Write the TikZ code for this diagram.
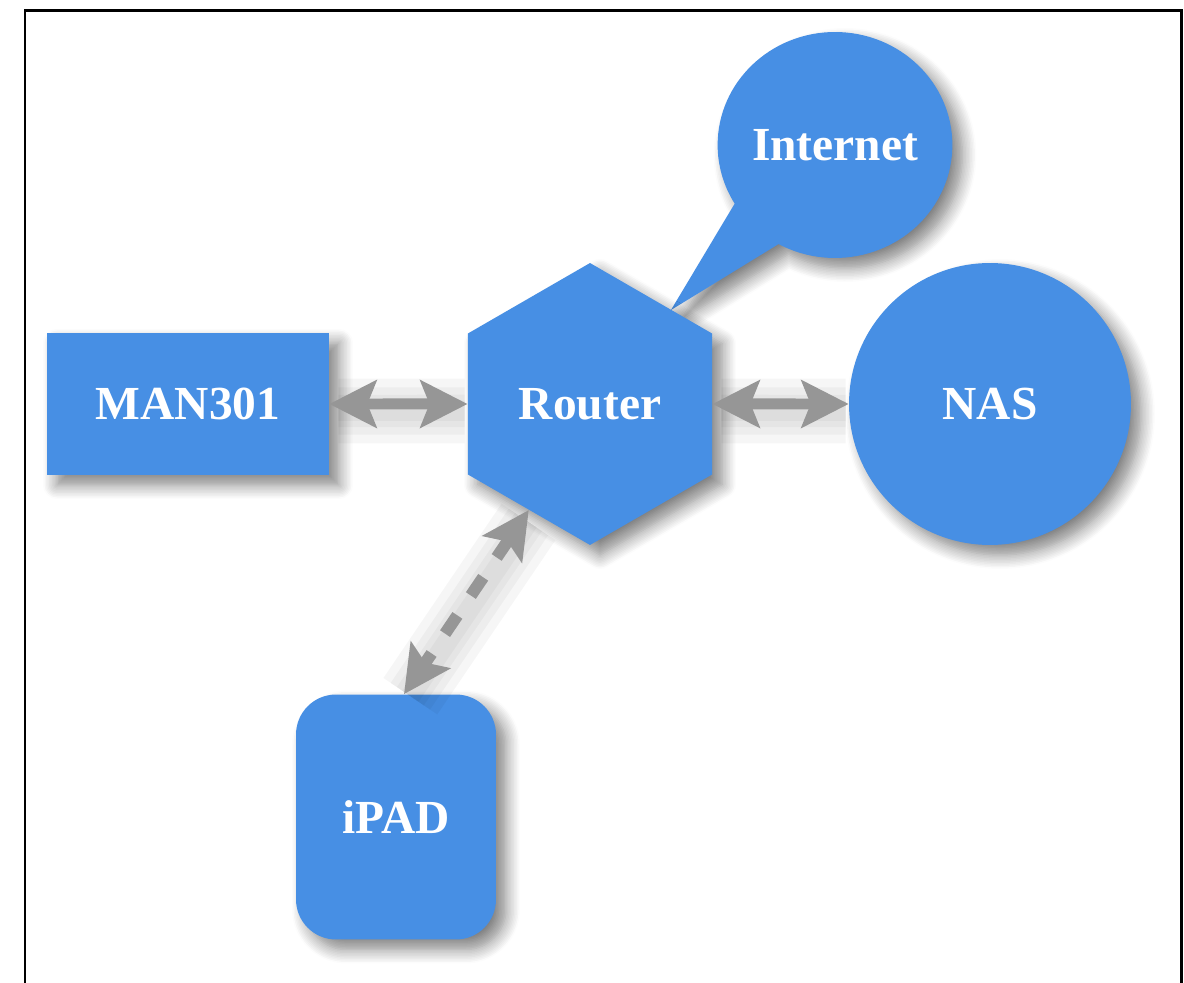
\documentclass[tikz,border=0pt]{standalone}
\usepackage{fontspec}
\setmainfont{Liberation Serif}
\usetikzlibrary{shapes.geometric,shapes.callouts,arrows.meta,shadows.blur}
\definecolor{nodeblue}{RGB}{71,143,228}
\definecolor{arrowgray}{RGB}{150,150,150}
\begin{document}
\begin{tikzpicture}[x=0.02cm,y=-0.02cm,
  netnode/.style={fill=nodeblue, text=white, font=\fontsize{27}{32}\selectfont\bfseries, inner sep=0pt,
    blur shadow={shadow xshift=0.2cm, shadow yshift=-0.2cm, shadow blur radius=0.28cm, shadow blur steps=10, shadow opacity=50}},
  tipS/.tip={Stealth[length=0.94cm,width=0.94cm,inset=0.18cm]},
  softshade/.style={preaction={draw=black, opacity=0.035, line width=#1, -, solid, line cap=butt,
    shorten <=0.12cm, shorten >=0.12cm,
    transform canvas={shift={(0.06cm,-0.14cm)}}}},
  link/.style={draw=arrowgray, line width=0.22cm, tipS-tipS,
    softshade=1.3cm, softshade=0.95cm, softshade=0.65cm, softshade=0.4cm},
]
\useasboundingbox (0,0) rectangle (1184,983);
\draw[line width=0.06cm] (25,983) -- (25,11) -- (1181,11) -- (1181,983);

\coordinate (ptr) at (671,310);
\node[netnode, ellipse callout, minimum width=4.52cm, minimum height=4.52cm,
  callout absolute pointer={(ptr)}, callout pointer arc=30] (internet) at (835,145) {Internet};
\node[netnode, rectangle, minimum width=5.64cm, minimum height=2.84cm] (man) at (188,404) {MAN301};
\node[netnode, regular polygon, regular polygon sides=6, shape border rotate=30, minimum size=5.64cm] (router) at (590,404) {Router};
\node[netnode, circle, minimum size=5.64cm] (nas) at (990,404) {NAS};
\node[netnode, rectangle, rounded corners=0.8cm, minimum width=4cm, minimum height=4.9cm] (ipad) at (396,817) {iPAD};

\draw[link] (man.east) -- (router.west);
\draw[link] (router.east) -- (nas.west);
\draw[link, line width=0.24cm, dash pattern=on 0.44cm off 0.48cm] (router.240) -- ([xshift=0.16cm]ipad.north);
\end{tikzpicture}
\end{document}
